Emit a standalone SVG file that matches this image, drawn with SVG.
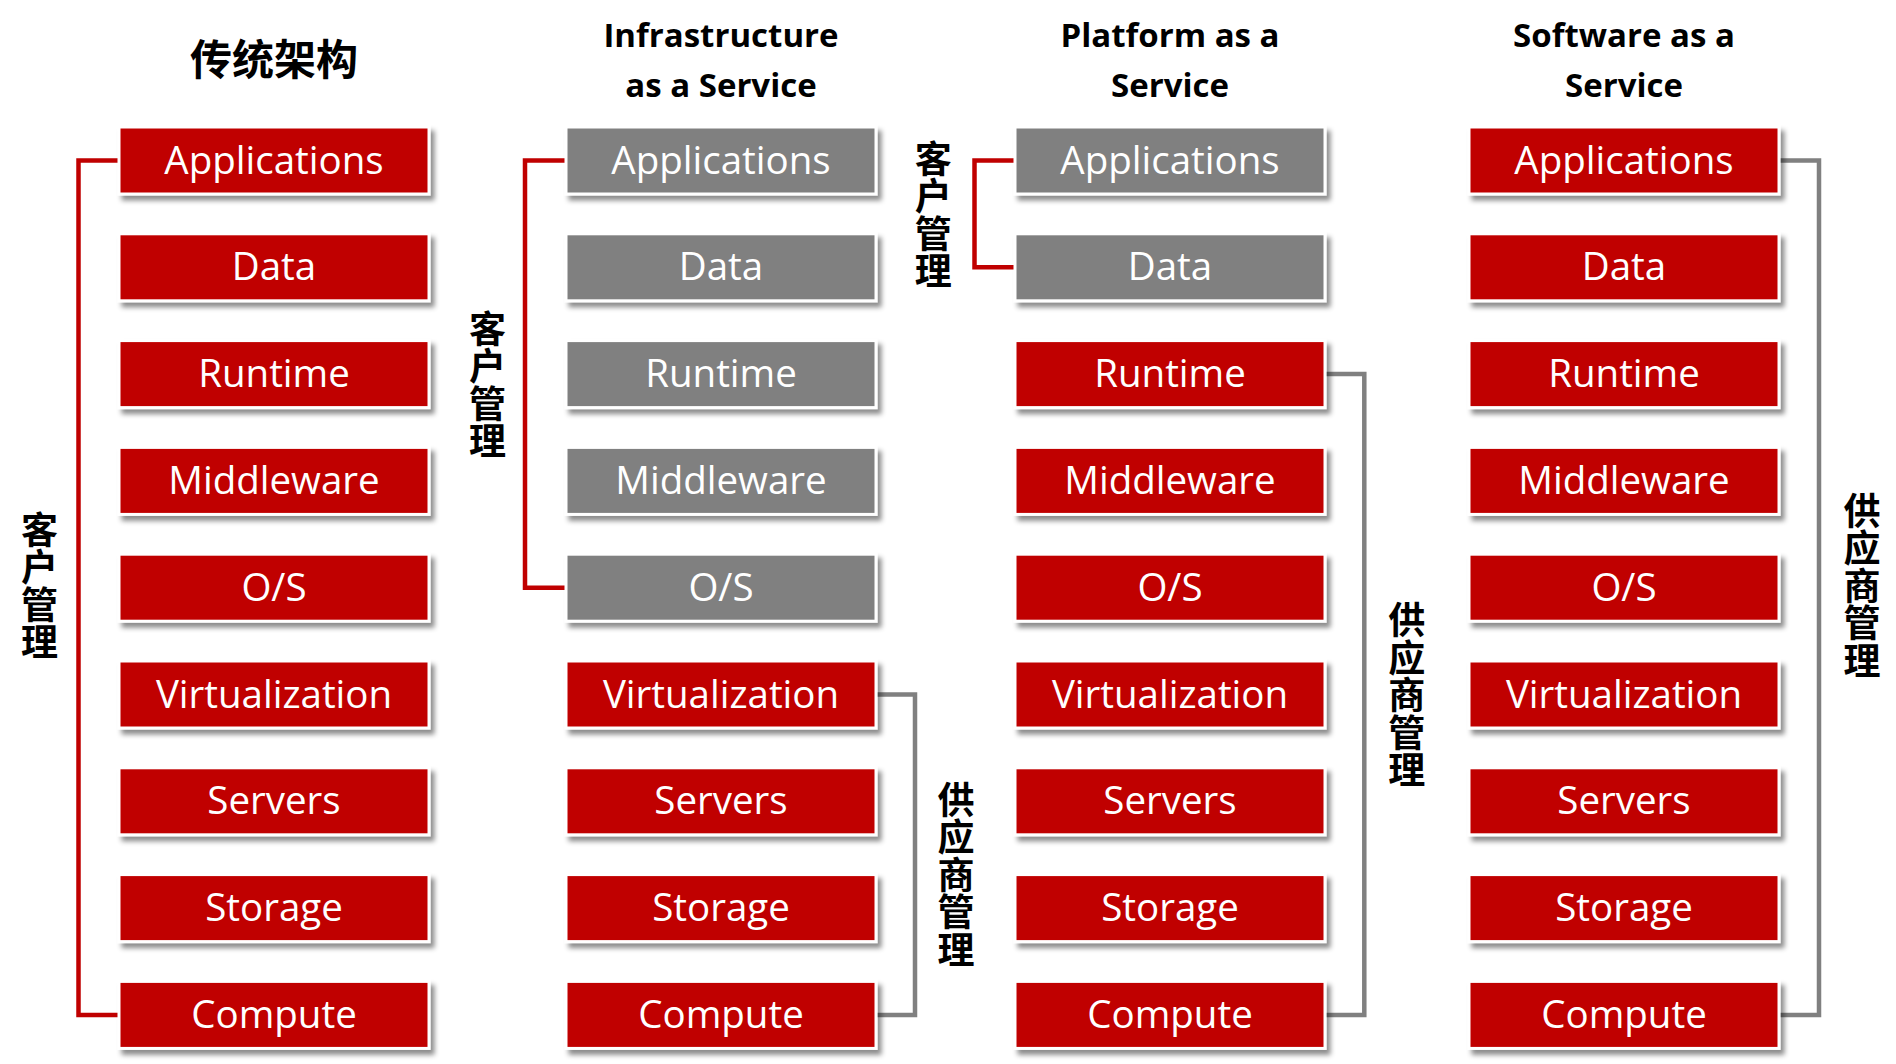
<svg xmlns="http://www.w3.org/2000/svg" width="1896" height="1064" viewBox="0 0 1896 1064">
<defs>
<filter id="sh" x="-5%" y="-20%" width="115%" height="150%">
<feDropShadow dx="4" dy="5" stdDeviation="2.5" flood-color="#000" flood-opacity="0.45"/>
</filter>
<style>
.r{fill:#C00000;stroke:#fff;stroke-width:3;filter:url(#sh)}
.g{fill:#808080;stroke:#fff;stroke-width:3;filter:url(#sh)}
.t{fill:#fff;font-family:"Open Sans","Noto Sans",sans-serif;font-size:38.5px;text-anchor:middle}
.h{fill:#000;font-family:"Open Sans","Noto Sans",sans-serif;font-size:33px;font-weight:bold;text-anchor:middle}
.c{fill:#000;font-family:"Noto Sans CJK SC",sans-serif;font-weight:bold;text-anchor:middle}
.v{fill:#000;font-family:"Noto Sans CJK SC",sans-serif;font-weight:bold;font-size:37px;writing-mode:vertical-rl;text-orientation:upright;text-anchor:start;letter-spacing:0.5px}
.lr{fill:none;stroke:#C00000;stroke-width:4.5}
.lg{fill:none;stroke:#808080;stroke-width:4.5}
</style>
</defs>
<rect width="1896" height="1064" fill="#fff"/>

<g id="titles">
<text class="c" x="274" y="75" font-size="42">传统架构</text>
<text class="h" x="721" y="46.7">Infrastructure</text>
<text class="h" x="721" y="96.7">as a Service</text>
<text class="h" x="1170" y="46.7">Platform as a</text>
<text class="h" x="1170" y="96.7">Service</text>
<text class="h" x="1624" y="46.7">Software as a</text>
<text class="h" x="1624" y="96.7">Service</text>
</g>

<g id="connectors">
<path class="lr" d="M119,160.5 H78.5 V1015 H119"/>
<path class="lr" d="M566,160.5 H525 V587.7 H566"/>
<path class="lg" d="M877,694.5 H915 V1015 H877"/>
<path class="lr" d="M1015,160.5 H974.5 V267.3 H1015"/>
<path class="lg" d="M1325,374.1 H1364.3 V1015 H1325"/>
<path class="lg" d="M1779,160.5 H1819 V1015 H1779"/>
</g>

<g id="labels">
<text class="v" x="39.5" y="511">客户管理</text>
<text class="v" x="487.5" y="310">客户管理</text>
<text class="v" x="933.3" y="140">客户管理</text>
<text class="v" x="956" y="781">供应商管理</text>
<text class="v" x="1406.7" y="601.5">供应商管理</text>
<text class="v" x="1862" y="492">供应商管理</text>
</g>

<g id="col-traditional">
<g id="t-app"><rect class="r" x="119" y="127" width="310" height="67"/><text class="t" x="274" y="173.5">Applications</text></g>
<g id="t-data"><rect class="r" x="119" y="233.8" width="310" height="67"/><text class="t" x="274" y="280.3">Data</text></g>
<g id="t-runtime"><rect class="r" x="119" y="340.6" width="310" height="67"/><text class="t" x="274" y="387.1">Runtime</text></g>
<g id="t-middleware"><rect class="r" x="119" y="447.4" width="310" height="67"/><text class="t" x="274" y="493.9">Middleware</text></g>
<g id="t-os"><rect class="r" x="119" y="554.2" width="310" height="67"/><text class="t" x="274" y="600.7">O/S</text></g>
<g id="t-virt"><rect class="r" x="119" y="661" width="310" height="67"/><text class="t" x="274" y="707.5">Virtualization</text></g>
<g id="t-servers"><rect class="r" x="119" y="767.8" width="310" height="67"/><text class="t" x="274" y="814.3">Servers</text></g>
<g id="t-storage"><rect class="r" x="119" y="874.6" width="310" height="67"/><text class="t" x="274" y="921.1">Storage</text></g>
<g id="t-compute"><rect class="r" x="119" y="981.4" width="310" height="67"/><text class="t" x="274" y="1027.9">Compute</text></g>
</g>

<g id="col-iaas">
<g id="i-app"><rect class="g" x="566" y="127" width="310" height="67"/><text class="t" x="721" y="173.5">Applications</text></g>
<g id="i-data"><rect class="g" x="566" y="233.8" width="310" height="67"/><text class="t" x="721" y="280.3">Data</text></g>
<g id="i-runtime"><rect class="g" x="566" y="340.6" width="310" height="67"/><text class="t" x="721" y="387.1">Runtime</text></g>
<g id="i-middleware"><rect class="g" x="566" y="447.4" width="310" height="67"/><text class="t" x="721" y="493.9">Middleware</text></g>
<g id="i-os"><rect class="g" x="566" y="554.2" width="310" height="67"/><text class="t" x="721" y="600.7">O/S</text></g>
<g id="i-virt"><rect class="r" x="566" y="661" width="310" height="67"/><text class="t" x="721" y="707.5">Virtualization</text></g>
<g id="i-servers"><rect class="r" x="566" y="767.8" width="310" height="67"/><text class="t" x="721" y="814.3">Servers</text></g>
<g id="i-storage"><rect class="r" x="566" y="874.6" width="310" height="67"/><text class="t" x="721" y="921.1">Storage</text></g>
<g id="i-compute"><rect class="r" x="566" y="981.4" width="310" height="67"/><text class="t" x="721" y="1027.9">Compute</text></g>
</g>

<g id="col-paas">
<g id="p-app"><rect class="g" x="1015" y="127" width="310" height="67"/><text class="t" x="1170" y="173.5">Applications</text></g>
<g id="p-data"><rect class="g" x="1015" y="233.8" width="310" height="67"/><text class="t" x="1170" y="280.3">Data</text></g>
<g id="p-runtime"><rect class="r" x="1015" y="340.6" width="310" height="67"/><text class="t" x="1170" y="387.1">Runtime</text></g>
<g id="p-middleware"><rect class="r" x="1015" y="447.4" width="310" height="67"/><text class="t" x="1170" y="493.9">Middleware</text></g>
<g id="p-os"><rect class="r" x="1015" y="554.2" width="310" height="67"/><text class="t" x="1170" y="600.7">O/S</text></g>
<g id="p-virt"><rect class="r" x="1015" y="661" width="310" height="67"/><text class="t" x="1170" y="707.5">Virtualization</text></g>
<g id="p-servers"><rect class="r" x="1015" y="767.8" width="310" height="67"/><text class="t" x="1170" y="814.3">Servers</text></g>
<g id="p-storage"><rect class="r" x="1015" y="874.6" width="310" height="67"/><text class="t" x="1170" y="921.1">Storage</text></g>
<g id="p-compute"><rect class="r" x="1015" y="981.4" width="310" height="67"/><text class="t" x="1170" y="1027.9">Compute</text></g>
</g>

<g id="col-saas">
<g id="s-app"><rect class="r" x="1469" y="127" width="310" height="67"/><text class="t" x="1624" y="173.5">Applications</text></g>
<g id="s-data"><rect class="r" x="1469" y="233.8" width="310" height="67"/><text class="t" x="1624" y="280.3">Data</text></g>
<g id="s-runtime"><rect class="r" x="1469" y="340.6" width="310" height="67"/><text class="t" x="1624" y="387.1">Runtime</text></g>
<g id="s-middleware"><rect class="r" x="1469" y="447.4" width="310" height="67"/><text class="t" x="1624" y="493.9">Middleware</text></g>
<g id="s-os"><rect class="r" x="1469" y="554.2" width="310" height="67"/><text class="t" x="1624" y="600.7">O/S</text></g>
<g id="s-virt"><rect class="r" x="1469" y="661" width="310" height="67"/><text class="t" x="1624" y="707.5">Virtualization</text></g>
<g id="s-servers"><rect class="r" x="1469" y="767.8" width="310" height="67"/><text class="t" x="1624" y="814.3">Servers</text></g>
<g id="s-storage"><rect class="r" x="1469" y="874.6" width="310" height="67"/><text class="t" x="1624" y="921.1">Storage</text></g>
<g id="s-compute"><rect class="r" x="1469" y="981.4" width="310" height="67"/><text class="t" x="1624" y="1027.9">Compute</text></g>
</g>
</svg>
